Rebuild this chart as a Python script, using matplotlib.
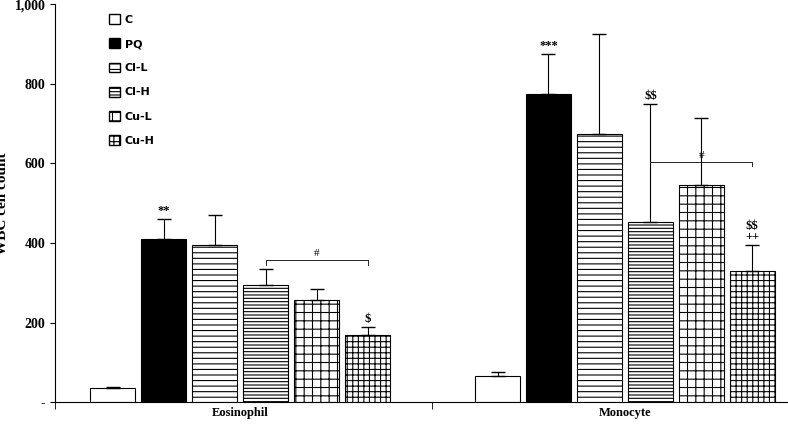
import matplotlib
matplotlib.use("Agg")
import matplotlib.pyplot as plt
from matplotlib.patches import Patch
plt.rcParams['hatch.linewidth'] = 0.8
plt.rcParams['text.parse_math'] = False

groups = ["Eosinophil", "Monocyte"]
series = ["C", "PQ", "Cl-L", "Cl-H", "Cu-L", "Cu-H"]
eos_vals = [35, 410, 395, 295, 258, 168]
eos_err = [3, 50, 75, 40, 27, 22]
mono_vals = [65, 775, 675, 453, 545, 330]
mono_err = [10, 100, 250, 297, 170, 65]
eos_marks = ["", "**", "", "", "", "$"]
mono_marks = ["", "***", "", "$$", "", "$$\n++"]

hatches = ["", "", "---", "-----", "++", "+++"]
faces = ["white", "black", "white", "white", "white", "white"]

fig, ax = plt.subplots(figsize=(7.88, 4.28), dpi=100)
fig.subplots_adjust(left=0.07, right=1.0, top=0.99, bottom=0.06)

starts = [0, 7.55]
for g, (vals, errs, marks) in enumerate([(eos_vals, eos_err, eos_marks), (mono_vals, mono_err, mono_marks)]):
    for i, (v, e, m) in enumerate(zip(vals, errs, marks)):
        x = starts[g] + i
        ax.bar(x, v, width=0.88, color=faces[i], edgecolor="black", hatch=hatches[i], linewidth=0.8)
        ax.errorbar(x, v, yerr=[[0], [e]], color="black", capsize=5, lw=0.8)
        if m:
            ax.text(x, v + e + 5, m, ha="center", va="bottom", fontsize=9,
                    family="Liberation Serif", fontweight="bold", linespacing=0.9, parse_math=False)

for g, y in [(0, 357), (1, 605)]:
    x1, x2 = starts[g] + 3, starts[g] + 5
    ax.plot([x1, x1, x2, x2], [y - 12, y, y, y - 12], color="black", lw=0.6)
    ax.text((x1 + x2) / 2, y + 5, "#", ha="center", va="bottom", fontsize=8, family="Liberation Serif")

ax.set_xlim(-1.13, 13.25)
ax.set_ylim(0, 1000)
ax.set_yticks([0, 200, 400, 600, 800, 1000])
ax.set_yticklabels(["-", "200", "400", "600", "800", "1,000"], family="Liberation Serif",
                   fontweight="bold", fontsize=10)
ax.set_xticks([2.5, 10.05])
ax.set_xticklabels(groups, family="Liberation Serif", fontweight="bold", fontsize=9)
ax.set_xticks([-1.13, 6.26, 13.25], minor=True)
ax.tick_params(axis="x", which="major", length=0)
ax.tick_params(axis="x", which="minor", length=5)
ax.set_ylabel("WBC cell count", family="Liberation Serif", fontweight="bold", fontsize=11)
for s in ["top", "right"]:
    ax.spines[s].set_visible(False)

handles = [Patch(facecolor=faces[i], edgecolor="black", hatch=hatches[i]) for i in range(6)]
ax.legend(handles, series, loc="upper left", bbox_to_anchor=(0.06, 1.0), frameon=False,
          prop={"family": "DejaVu Sans", "weight": "bold", "size": 8},
          handlelength=1.0, handleheight=1.0, labelspacing=1.2, handletextpad=0.4)

fig.savefig("out.png", dpi=100)
